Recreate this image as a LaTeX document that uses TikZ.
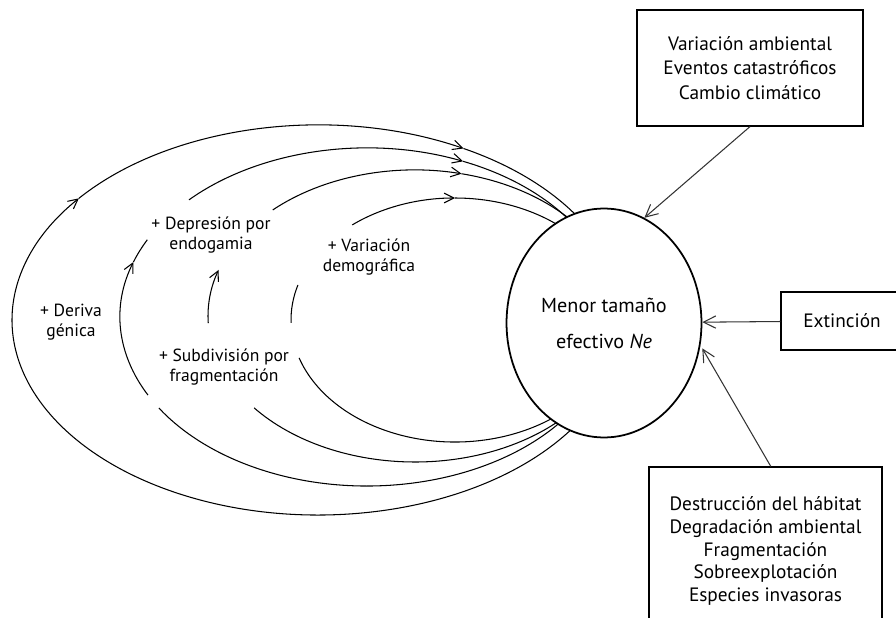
\documentclass[tikz,border=0pt]{standalone}
\usepackage{fontspec}
\setmainfont{PT Sans}
\usetikzlibrary{shapes.geometric,arrows.meta}
\tikzset{
  lazo/.style={line width=0.6pt},
  punta/.style={-{Straight Barb[length=5.5pt,width=5.5pt]}},
  caja/.style={draw,line width=0.7pt,align=center},
  etiq/.style={align=center,font=\fontsize{10}{11.5}\selectfont},
  flecha/.style={-{Straight Barb[length=7pt,width=7pt]},line width=0.6pt,black!80}
}
% arco de elipse: [estilo]{centro}{radio x}{radio y}{angulo inicial}{angulo final}
\newcommand{\arco}[6][]{\draw[lazo,#1] (#2) ++(#5:#3 and #4)
  arc[start angle=#5,end angle=#6,x radius=#3,y radius=#4];}
\begin{document}
\begin{tikzpicture}[x=0.02cm,y=-0.02cm]
\useasboundingbox (0,0) rectangle (896,618);
\coordinate (c1) at (318,320);
\coordinate (c2) at (367,317);
\coordinate (c3) at (415,316);
\coordinate (c4) at (455,320);
% deriva
\arco[punta]{c1}{306}{195}{30}{218.6}
\arco[punta]{c1}{306}{195}{218.6}{298.4}
\arco{c1}{306}{195}{298.4}{332}
% endogamia
\arco{c2}{247}{169}{30}{147.4}
\arco[punta]{c2}{247}{169}{152.5}{199}
\arco{c2}{247}{169}{199}{207.2}
\arco[punta]{c2}{247}{169}{223.9}{292.9}
\arco{c2}{247}{169}{292.9}{328}
% fragmentacion
\arco{c3}{207}{146}{30}{141}
\arco[punta]{c3}{207}{146}{177.2}{198.4}
\arco[punta]{c3}{207}{146}{226.6}{283}
\arco{c3}{207}{146}{283}{330}
% demografia
\arco{c4}{164}{122}{25}{161.9}
\arco{c4}{164}{122}{178.6}{196.7}
\arco[punta]{c4}{164}{122}{231.2}{270}
\arco{c4}{164}{122}{270}{335}
\node[draw,ellipse,fill=white,line width=1pt,minimum width=3.9cm,minimum height=4.58cm,
  align=center,font=\fontsize{11.5}{20.4}\selectfont] (ne) at (604,323)
  {Menor tamaño\\efectivo \textit{Ne}};
\node[caja,minimum width=4.52cm,minimum height=2.32cm,font=\fontsize{11}{14}\selectfont]
  (clima) at (750,68) {Variación ambiental\\Eventos catastróficos\\Cambio climático};
\node[caja,minimum width=2.44cm,minimum height=1.16cm,font=\fontsize{11}{14}\selectfont]
  (ext) at (842,321) {Extinción};
\node[caja,minimum width=4.66cm,minimum height=3.36cm,font=\fontsize{11}{13}\selectfont]
  (hab) at (765.5,551) {Destrucción del hábitat\\Degradación ambiental\\Fragmentación\\Sobreexplotación\\Especies invasoras};
\node[etiq] (der) at (71,322) {+ Deriva\\génica};
\node[etiq] (dep) at (211,235) {+ Depresión por\\endogamia};
\node[etiq] (var) at (369,257) {+ Variación\\demográfica};
\node[etiq] (sub) at (224,367) {+ Subdivisión por\\fragmentación};
\draw[flecha] (clima.south) -- (ne.69);
\draw[flecha] (ext) -- (ne);
\draw[flecha,shorten >=2pt] ([xshift=3pt]hab.north) -- (ne.-13);
\end{tikzpicture}
\end{document}
